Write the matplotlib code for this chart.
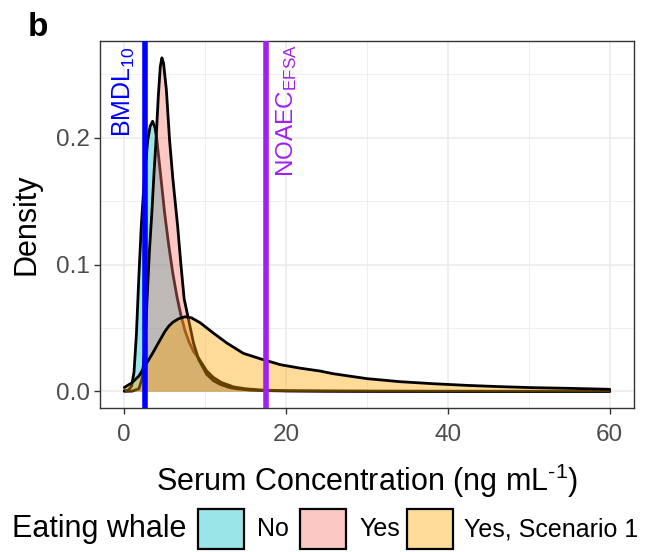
import matplotlib
matplotlib.use("Agg")
import matplotlib.pyplot as plt
from matplotlib.patches import Rectangle
from matplotlib.ticker import MultipleLocator

plt.rcParams['font.family'] = ['Liberation Sans', 'DejaVu Sans']
plt.rcParams['mathtext.fontset'] = 'custom'
plt.rcParams['mathtext.rm'] = 'Liberation Sans'
plt.rcParams['mathtext.it'] = 'Liberation Sans:italic'
plt.rcParams['mathtext.bf'] = 'Liberation Sans:bold'

# ---- data ----
groups = ["No", "Yes", "Yes, Scenario 1"]
fill_colors = ["#00BFC4", "#F8766D", "#FFA500"]

no_x = [0, 0.5, 0.9, 1.2, 1.5, 1.8, 2.1, 2.5, 2.9, 3.2, 3.5, 3.8, 4.0, 4.5, 5.0, 5.5,
        6.0, 6.5, 7.0, 7.5, 8.0, 8.6, 9.2, 10.2, 11.0, 12.0, 13.5, 15, 17, 20, 25, 30, 40, 50, 60]
no_y = [0.0005, 0.001, 0.004, 0.015, 0.045, 0.09, 0.13, 0.17, 0.198, 0.209, 0.213, 0.208, 0.200,
        0.170, 0.140, 0.115, 0.093, 0.075, 0.060, 0.048, 0.039, 0.031, 0.026, 0.016, 0.011, 0.007,
        0.0035, 0.002, 0.001, 0.0005, 0.0002, 0.0001, 0, 0, 0]

yes_x = [0, 1.0, 1.8, 2.2, 2.5, 2.8, 3.1, 3.4, 3.7, 3.9, 4.2, 4.45, 4.65, 4.85, 5.2, 5.6, 6.0,
         6.6, 7.0, 7.4, 7.9, 8.56, 9.2, 10.2, 11.0, 11.85, 13.0, 13.9, 15.5, 17, 20, 30, 60]
yes_y = [0, 0.0002, 0.002, 0.01, 0.03, 0.07, 0.11, 0.14, 0.175, 0.195, 0.232, 0.256, 0.263, 0.259,
         0.238, 0.198, 0.168, 0.130, 0.100, 0.073, 0.058, 0.038, 0.025, 0.0133, 0.0085, 0.0055,
         0.003, 0.002, 0.001, 0.0006, 0.0003, 0.0001, 0]

s1_x = [0, 0.95, 1.8, 2.8, 3.5, 4.2, 5.0, 5.5, 6.0, 6.7, 7.5, 8.3, 9.4, 11.0, 12.7, 14.7, 16.8,
        19.3, 21.7, 24.2, 25.8, 30, 34.1, 38.2, 42.3, 46.4, 50.5, 54.7, 60]
s1_y = [0.003, 0.0068, 0.012, 0.0226, 0.030, 0.038, 0.047, 0.0514, 0.0545, 0.0572, 0.0588, 0.058,
        0.054, 0.046, 0.038, 0.030, 0.0257, 0.021, 0.0183, 0.016, 0.0139, 0.010, 0.0076, 0.006,
        0.0047, 0.0037, 0.0029, 0.0024, 0.0016]

series = [(no_x, no_y), (yes_x, yes_y), (s1_x, s1_y)]

bmdl10 = 2.5
noaec_efsa = 17.5

x_ticks = [0, 20, 40, 60]
y_ticks = [0.0, 0.1, 0.2]
y_tick_labels = ["0.0", "0.1", "0.2"]

# ---- figure ----
W, H = 649, 552
fig = plt.figure(figsize=(W / 100, H / 100), dpi=100)
ax = fig.add_axes([100 / W, 1 - 408 / H, 534 / W, 367 / H])

for (xs, ys), col in zip(series, fill_colors):
    ax.fill_between(xs, ys, 0, color=col, alpha=0.4, linewidth=0, zorder=2)
    ax.plot(xs, ys, color="black", lw=2.0, solid_joinstyle="round", solid_capstyle="round", zorder=2)

ax.axvline(bmdl10, color="#0000FF", lw=4.0, zorder=3)
ax.axvline(noaec_efsa, color="#A020F0", lw=4.0, zorder=3)

ax.text(bmdl10 - 2.55, 0.272, r"BMDL$_\mathregular{10}$", rotation=90, color="#0000FF",
        ha="center", va="top", fontsize=18, zorder=4)
ax.text(noaec_efsa + 2.55, 0.2735, r"NOAEC$_\mathregular{EFSA}$", rotation=90, color="#A020F0",
        ha="center", va="top", fontsize=17.5, zorder=4)

ax.set_xlim(-3, 63)
ax.set_ylim(-0.01315, 0.2763)
ax.set_xticks(x_ticks)
ax.set_yticks(y_ticks)
ax.set_yticklabels(y_tick_labels)
ax.xaxis.set_minor_locator(MultipleLocator(10))
ax.yaxis.set_minor_locator(MultipleLocator(0.05))
ax.grid(which="major", color="#EBEBEB", lw=1.1, zorder=0)
ax.grid(which="minor", color="#EBEBEB", lw=0.55, zorder=0)
ax.set_axisbelow(True)
ax.tick_params(which="major", length=4.5, width=1.0, color="#333333", labelcolor="#4D4D4D",
               labelsize=17.5, pad=3)
ax.tick_params(axis="x", which="major", pad=7)
ax.tick_params(which="minor", length=0)
for sp in ax.spines.values():
    sp.set_color("#333333")
    sp.set_linewidth(1.0)

ax.set_xlabel(r"Serum Concentration (ng mL$^{\text{-1}}$)", fontsize=22, labelpad=11)
ax.set_ylabel("Density", fontsize=22, labelpad=10)

fig.text(28 / W, 1 - 27 / H, "b", fontsize=24, fontweight="bold", ha="left", va="center")

# ---- legend (bottom) ----
ly = 1 - 529 / H
fig.text(12 / W, ly, "Eating whale", fontsize=22, ha="left", va="center")
sw_x = [198, 300, 407]
txt_x = [257, 359, 464]
for sx, tx, col, lab in zip(sw_x, txt_x, fill_colors, groups):
    fig.patches.append(Rectangle((sx / W, 1 - 549 / H), 46 / W, 40 / H, transform=fig.transFigure,
                                 facecolor=matplotlib.colors.to_rgba(col, 0.4),
                                 edgecolor="black", lw=1.6))
    fig.text(tx / W, ly, lab, fontsize=18, ha="left", va="center")

fig.savefig("out.png", dpi=100)
